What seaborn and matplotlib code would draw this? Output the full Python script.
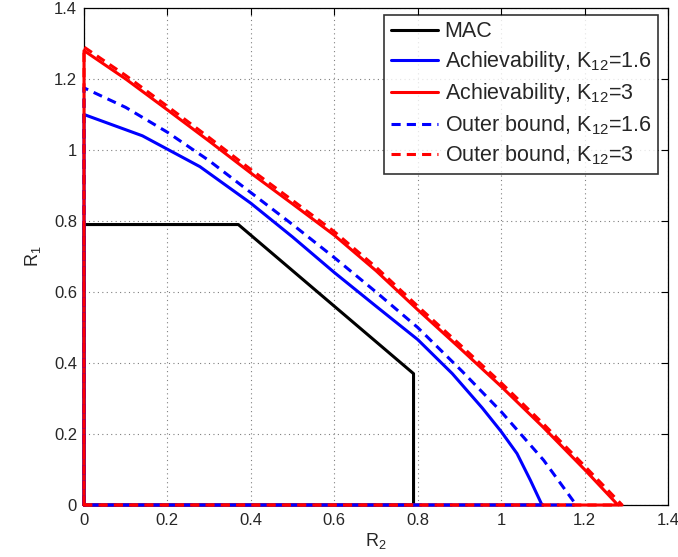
# -*- coding: utf-8 -*-

import numpy as np
import matplotlib
matplotlib.use('Agg')
import matplotlib.pyplot as plt
import pandas as pd
import seaborn as sns
from matplotlib.ticker import FormatStrFormatter

# MAC region corner points
mac_r2 = [0, 0.37, 0.79, 0.79]
mac_r1 = [0.79, 0.79, 0.37, 0]

# achievability, K12=1.6
ach16_r2 = [0, 0.14, 0.278, 0.40, 0.50, 0.60, 0.70, 0.80, 0.883, 0.955, 1.00, 1.038, 1.07, 1.098]
ach16_r1 = [1.10, 1.04, 0.953, 0.85, 0.755, 0.655, 0.56, 0.466, 0.37, 0.273, 0.207, 0.145, 0.07, 0]

# achievability, K12=3
ach3_r2 = [0, 0.10, 0.20, 0.30, 0.40, 0.50, 0.60, 0.70, 0.80, 0.90, 1.00, 1.10, 1.20, 1.28]
ach3_r1 = [1.28, 1.20, 1.113, 1.025, 0.935, 0.848, 0.76, 0.66, 0.55, 0.443, 0.334, 0.22, 0.10, 0]

# outer bound, K12=1.6
out16_r2 = [0, 0.10, 0.20, 0.30, 0.40, 0.50, 0.60, 0.70, 0.80, 0.907, 1.00, 1.102, 1.18]
out16_r1 = [1.175, 1.12, 1.05, 0.97, 0.88, 0.79, 0.697, 0.60, 0.50, 0.376, 0.263, 0.126, 0]

# outer bound, K12=3
out3_r2 = [0, 0.10, 0.20, 0.30, 0.40, 0.50, 0.60, 0.70, 0.80, 0.90, 1.00, 1.10, 1.20, 1.29]
out3_r1 = [1.29, 1.21, 1.123, 1.035, 0.945, 0.858, 0.77, 0.67, 0.56, 0.453, 0.344, 0.23, 0.11, 0]

labels = ['MAC',
          r'Achievability, K$_{12}$=1.6',
          r'Achievability, K$_{12}$=3',
          r'Outer bound, K$_{12}$=1.6',
          r'Outer bound, K$_{12}$=3']


def closed(r2, r1):
    # region boundary: start at origin, go up the R1 axis, along the curve, back along R2 axis
    x = np.concatenate([[0], r2, [0]])
    y = np.concatenate([[0], r1, [0]])
    return x, y


sns.set_style('white')
plt.rcParams['font.family'] = ['Liberation Sans', 'DejaVu Sans']
plt.rcParams['mathtext.fontset'] = 'custom'
plt.rcParams['mathtext.rm'] = 'Liberation Sans'
plt.rcParams['mathtext.it'] = 'Liberation Sans'

fig = plt.figure(figsize=(6.78, 5.57), dpi=100)
ax = fig.add_axes([84 / 678, 1 - 505 / 557, 584 / 678, 497 / 557])

series = [(mac_r2, mac_r1, 'black', '-'),
          (ach16_r2, ach16_r1, 'blue', '-'),
          (ach3_r2, ach3_r1, 'red', '-'),
          (out16_r2, out16_r1, 'blue', '--'),
          (out3_r2, out3_r1, 'red', '--')]

for (r2, r1, col, ls), lab in zip(series, labels):
    x, y = closed(r2, r1)
    df = pd.DataFrame({'R2': x, 'R1': y})
    line_kw = dict(color=col, lw=2.2, label=lab, clip_on=False, zorder=3)
    if ls == '--':
        line_kw['dashes'] = (3, 2)
    sns.lineplot(data=df, x='R2', y='R1', sort=False, estimator=None, ax=ax, **line_kw)

ax.set_xlim(0, 1.4)
ax.set_ylim(0, 1.4)
ax.set_xticks(np.arange(0, 1.41, 0.2))
ax.set_yticks(np.arange(0, 1.41, 0.2))
ax.xaxis.set_major_formatter(FormatStrFormatter('%g'))
ax.yaxis.set_major_formatter(FormatStrFormatter('%g'))
ax.tick_params(direction='in', top=True, right=True, length=5, width=0.8,
               labelsize=12, color='black')
ax.tick_params(axis='x', pad=6)
ax.tick_params(axis='y', pad=5)
ax.grid(True, linestyle=(0, (1, 3)), color='#808080', linewidth=0.8)
for s in ax.spines.values():
    s.set_color('black')
    s.set_linewidth(0.9)

ax.set_xlabel(r'R$_2$', fontsize=13, labelpad=2)
ax.set_ylabel(r'R$_1$', fontsize=13, labelpad=8)

leg = ax.legend(loc='upper right', fontsize=15.5, frameon=True, fancybox=False,
                edgecolor='black', handlelength=2.2, handletextpad=0.3,
                labelspacing=0.32, borderpad=0.3, borderaxespad=0,
                bbox_to_anchor=(0.983, 0.986))
leg.get_frame().set_linewidth(1.2)
leg.set_zorder(5)

fig.savefig('out.png', dpi=100)
